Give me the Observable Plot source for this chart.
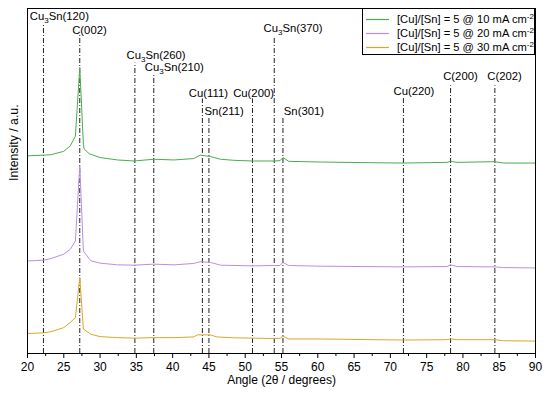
<!DOCTYPE html>
<html><head><meta charset="utf-8">
<script src="https://cdn.jsdelivr.net/npm/d3@7"></script>
<script src="https://cdn.jsdelivr.net/npm/@observablehq/plot@0.6"></script>
<style>
body{margin:0;background:#fff;font-family:"Liberation Sans",Arial,sans-serif;}
#wrap{position:relative;width:550px;height:394px;}
#legend{position:absolute;left:362px;top:8px;width:173px;height:47px;border:1px solid #000;background:#fff;box-sizing:border-box;font-size:11.2px;color:#000;}
#legend .row{position:absolute;left:0;width:100%;height:14px;}
#legend svg{position:absolute;left:2px;top:0;}
#legend .tx{position:absolute;left:34px;top:0;line-height:14px;white-space:nowrap;}
#legend sup{font-size:8px;vertical-align:4px;line-height:0;}
</style>
</head><body>
<div id="wrap"></div>
<script>
// ---- Data ----
const seriesNames = ["[Cu]/[Sn] = 5 @ 10 mA cm-2", "[Cu]/[Sn] = 5 @ 20 mA cm-2", "[Cu]/[Sn] = 5 @ 30 mA cm-2"];
const seriesColors = ["#4aad4a", "#b98ee6", "#dba62a"];

const angles10 = [20,22.2,23.2,25,25.9,26.6,27.2,27.7,27.8,28.5,30,32.4,34.7,37.4,40.2,42.9,43.8,44.5,45.2,46.6,48.4,51.1,53.9,54.8,55.2,56,60.4,67.3,71.8,77.8,78.3,79.2,84.4,85.6,90];
const int10 = [57.3,57.5,57.6,58.6,60.2,63.0,82.9,60.7,59.3,57.9,56.8,56.1,55.8,56.3,56.1,56.5,57.5,57.3,57.1,56.3,56.0,55.8,55.8,55.9,56.8,55.7,55.5,55.3,55.2,55.4,55.7,55.4,55.6,55.2,55.2];

const angles20 = [20,22.2,23.2,25,25.9,26.6,27.2,27.7,28.7,30,32.4,34.7,37.4,40.2,42.9,43.8,45.2,46.6,51.1,53.9,54.8,55.2,56,60.4,71.8,77.8,78.3,79.2,84.4,85.6,90];
const int20 = [26.8,27.05,27.5,28.8,30.2,32.6,54.4,29.7,26.9,26.2,25.7,25.6,25.9,25.7,26.1,26.6,26.4,25.6,25.4,25.5,25.5,26.4,25.5,25.3,25.1,25.2,25.7,25.2,25.1,24.9,24.8];

const angles30 = [20,22.2,23.2,25,25.9,26.6,27.2,27.7,28.7,30,32.4,34.7,37.4,40.2,42.9,43.4,45.2,46.1,48.4,51.1,53.5,54.8,55.2,56,60.4,71.8,77.8,78.3,79.2,84.4,85.6,90];
const int30 = [5.8,6.0,6.3,7.5,9.0,10.4,22.0,7.1,5.6,4.9,4.6,4.45,4.6,4.6,4.8,5.4,5.4,4.8,4.55,4.45,4.35,4.4,5.0,4.2,4.2,3.9,4.0,4.25,4.0,4.0,3.7,3.6];

const peakLabels = ["Cu₃Sn(120)","C(002)","Cu₃Sn(260)","Cu₃Sn(210)","Cu(111)","Sn(211)","Cu(200)","Cu₃Sn(370)","Sn(301)","Cu(220)","C(200)","C(202)"];
const peakAngles = [22.2,27.2,34.8,37.4,44.1,45.0,51.0,54.0,55.2,71.8,78.3,84.4];
const peakLineTop = [95.2,92.6,84.2,81.0,73.8,68.6,73.8,91.4,68.3,74.1,77.6,77.6];
const labelAngles = [20.32,26.16,33.64,36.16,42.23,44.39,48.34,52.52,55.32,70.43,77.28,83.35];
const labelLevels = [97.8,93.8,86.5,82.8,75.5,70.3,75.5,94.1,70.3,76.1,80.4,80.4];

const xMajor = d3.range(20, 91, 5);
const xMinor = d3.range(22.5, 90, 5);

// ---- Tables ----
const rows = [];
[[angles10,int10],[angles20,int20],[angles30,int30]].forEach(([a, v], i) => {
  a.forEach((x, j) => rows.push({angle: x, intensity: v[j], series: seriesNames[i]}));
});
const peaks = peakLabels.map((label, i) => ({label, angle: peakAngles[i], top: peakLineTop[i], la: labelAngles[i], ll: labelLevels[i]}));

const chart = Plot.plot({
  width: 550, height: 394,
  marginLeft: 27, marginRight: 15, marginTop: 8, marginBottom: 41,
  style: {fontFamily: '"Liberation Sans", Arial, sans-serif', color: "#000", background: "#fff", overflow: "visible"},
  x: {domain: [20, 90]},
  y: {domain: [0, 100]},
  color: {domain: seriesNames, range: seriesColors},
  marks: [
    Plot.ruleX(peaks, {x: "angle", y1: 0, y2: "top", stroke: "#222", strokeWidth: 1, strokeDasharray: "5,2,1,2"}),
    Plot.line(rows, {x: "angle", y: "intensity", z: "series", stroke: "series", strokeWidth: 1}),
    Plot.text(peaks, {x: "la", y: "ll", text: "label", textAnchor: "start", fontSize: 11.3, fill: "#000"}),
    Plot.frame({stroke: "#000", strokeWidth: 1}),
    Plot.axisX({ticks: xMajor, tickSize: 5, tickPadding: 4, fontSize: 12, label: null}),
    Plot.axisX({ticks: xMinor, tickSize: 3, tickFormat: () => "", label: null}),
    Plot.axisY({ticks: [], label: null}),
    Plot.text(["Angle (2θ / degrees)"], {frameAnchor: "bottom", dy: 30, fontSize: 12, fill: "#000"}),
    Plot.text(["Intensity / a.u."], {frameAnchor: "left", dx: -13, rotate: -90, fontSize: 12.3, fill: "#000"})
  ]
});

// subscript rendering for Cu₃Sn labels
d3.select(chart).selectAll("text").filter(function() { return this.textContent.includes("₃"); }).each(function() {
  const t = d3.select(this);
  const parts = this.textContent.split("₃");
  t.text(null);
  t.append("tspan").text(parts[0]);
  t.append("tspan").attr("dy", 3).attr("font-size", 8).text("3");
  t.append("tspan").attr("dy", -3).text(parts[1]);
});

const wrap = document.getElementById("wrap");
wrap.appendChild(chart);

// legend
const legend = d3.select(wrap).append("div").attr("id", "legend");
seriesNames.forEach((name, i) => {
  const row = legend.append("div").attr("class", "row").style("top", (3 + i * 14) + "px");
  const sw = row.append("svg").attr("width", 26).attr("height", 14);
  sw.append("line").attr("x1", 1).attr("x2", 24).attr("y1", 7.5).attr("y2", 7.5)
    .attr("stroke", seriesColors[i]).attr("stroke-width", 1.2);
  const tx = row.append("div").attr("class", "tx").text(name.replace(/cm-2$/, "cm"));
  tx.append("sup").text("-2");
});
</script>
</body></html>
